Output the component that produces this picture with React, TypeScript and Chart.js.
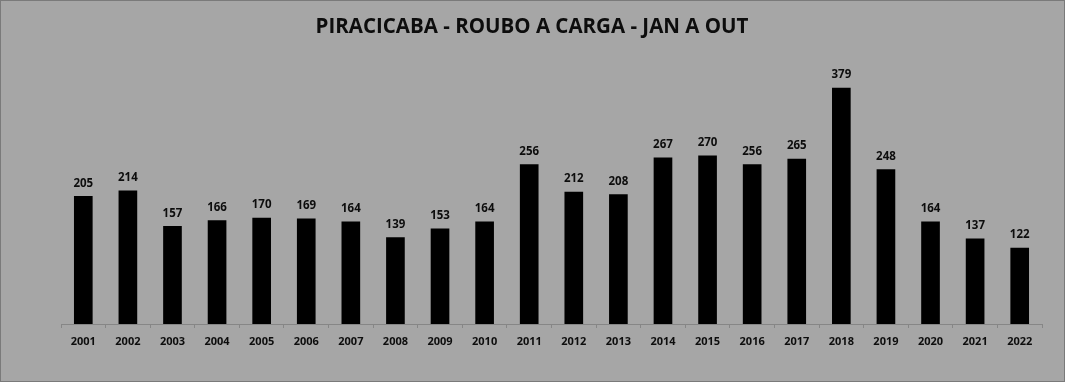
import React, { useEffect, useRef } from "react";
import { Chart, registerables } from "chart.js";

Chart.register(...registerables);

const TITLE = "PIRACICABA - ROUBO A CARGA - JAN A OUT";
const YEARS = ["2001","2002","2003","2004","2005","2006","2007","2008","2009","2010","2011","2012","2013","2014","2015","2016","2017","2018","2019","2020","2021","2022"];
const VALUES = [205,214,157,166,170,169,164,139,153,164,256,212,208,267,270,256,265,379,248,164,137,122];

const BG = "#a6a6a6";
const TEXT = "#0d0d0d";
const AXIS = "#868686";
const FONT = "'Open Sans', 'Liberation Sans', sans-serif";

export default function App() {
  const ref = useRef<HTMLCanvasElement | null>(null);
  useEffect(() => {
    document.body.style.margin = "0";
    const canvas = ref.current;
    if (!canvas) return;
    const deco = {
      id: "deco",
      beforeDraw(chart: any) {
        const ctx = chart.ctx;
        ctx.save();
        ctx.fillStyle = BG;
        ctx.fillRect(0, 0, chart.width, chart.height);
        ctx.strokeStyle = "#7a7a7a";
        ctx.lineWidth = 1;
        ctx.strokeRect(0.5, 0.5, chart.width - 1, chart.height - 1);
        ctx.restore();
      },
      afterDraw(chart: any) {
        const ctx = chart.ctx;
        ctx.save();
        ctx.fillStyle = TEXT;
        ctx.textAlign = "center";
        ctx.textBaseline = "middle";
        ctx.font = `bold 20.5px ${FONT}`;
        ctx.fillText(TITLE, 532, 27);
        ctx.font = `bold 11.5px ${FONT}`;
        const meta = chart.getDatasetMeta(0);
        meta.data.forEach((bar: any, i: number) => {
          ctx.fillText(String(VALUES[i]), bar.x, bar.y - 13);
        });
        ctx.restore();
      },
    };
    const chart = new Chart(canvas, {
      type: "bar",
      data: {
        labels: YEARS,
        datasets: [
          {
            data: VALUES,
            backgroundColor: "#000000",
            borderWidth: 0,
            barThickness: 18,
          },
        ],
      },
      options: {
        responsive: false,
        animation: false,
        devicePixelRatio: 1,
        layout: { padding: { left: 61, right: 23, top: 75, bottom: 0 } },
        plugins: { legend: { display: false }, tooltip: { enabled: false }, title: { display: false } },
        scales: {
          y: { display: false, min: 0, max: 400 },
          x: {
            offset: true,
            afterFit(scale: any) {
              scale.height = 58;
            },
            grid: {
              display: true,
              drawOnChartArea: false,
              drawTicks: true,
              tickLength: 4,
              color: AXIS,
              offset: true,
            },
            border: { display: true, color: AXIS, width: 1 },
            ticks: {
              color: TEXT,
              padding: 7,
              maxRotation: 0,
              autoSkip: false,
              font: { family: FONT, size: 11, weight: "bold" },
            },
          },
        },
      },
      plugins: [deco],
    });
    return () => chart.destroy();
  }, []);
  return (
    <div style={{ width: 1065, height: 382 }}>
      <canvas ref={ref} width={1065} height={382} style={{ display: "block" }} />
    </div>
  );
}
